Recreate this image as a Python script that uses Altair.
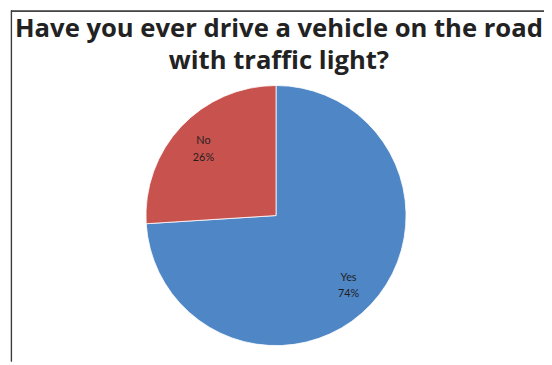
import altair as alt
import pandas as pd

answers = ["Yes", "No"]
shares = [74, 26]
slice_order = [1, 2]
colors = ["#4F86C6", "#C8524E"]

title_lines = ["Have you ever drive a vehicle on the road", "with traffic light?"]

df = pd.DataFrame({
    "answer": answers,
    "share": shares,
    "order": slice_order,
    "label": [f"{a}\n{s}%" for a, s in zip(answers, shares)],
})

W, H = 544, 256

base = alt.Chart(df).encode(
    theta=alt.Theta("share:Q", stack=True),
    order=alt.Order("order:Q"),
)

pie = base.mark_arc(radius=132, stroke="white", strokeWidth=0.8).encode(
    color=alt.Color("answer:N", scale=alt.Scale(domain=answers, range=colors), legend=None)
)

labels = base.mark_text(radius=101, lineBreak="\n", font="Lato", fontSize=11,
                        color="#1f1f1f", lineHeight=17, dy=-6).encode(
    text="label:N"
)

left_border = alt.Chart(df).mark_rule(color="#3a3a3a", strokeWidth=1.2).encode(
    x=alt.value(3.5), y=alt.value(-80), y2=alt.value(H + 20)
)
top_border = alt.Chart(df).mark_rule(color="#3a3a3a", strokeWidth=1.2).encode(
    x=alt.value(3), x2=alt.value(W), y=alt.value(-79.5)
)

chart = alt.layer(pie, labels, left_border, top_border).properties(
    width=W,
    height=H,
    autosize=alt.AutoSizeParams(type="none"),
    padding={"left": 0, "top": 80, "right": 0, "bottom": 20},
    title=alt.TitleParams(
        text=title_lines,
        font="Open Sans",
        fontSize=26,
        fontWeight="bold",
        color="#222222",
        lineHeight=33,
        anchor="middle",
        offset=14,
        dx=3,
        dy=79,
    ),
).configure_view(stroke=None)

chart.save("out.html", embed_options={"renderer": "svg", "actions": False})
